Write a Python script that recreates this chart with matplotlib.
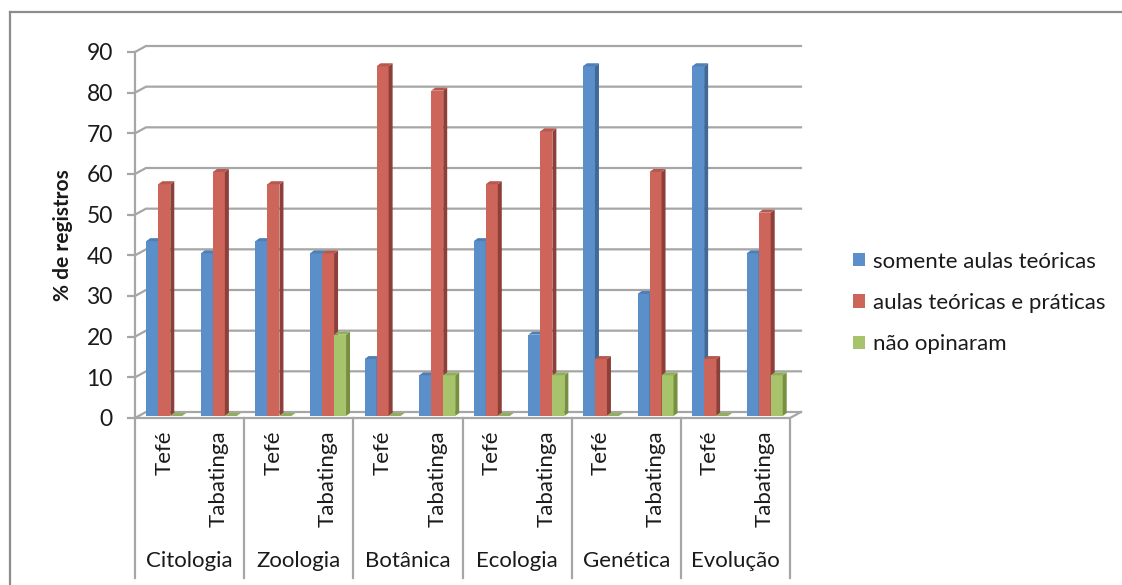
import matplotlib
matplotlib.use('Agg')
import matplotlib.pyplot as plt
from matplotlib.patches import Polygon, Patch
from matplotlib.lines import Line2D

# dados (% de registros)
disciplinas = ['Citologia', 'Zoologia', 'Botânica', 'Ecologia', 'Genética', 'Evolução']
cidades = ['Tefé', 'Tabatinga']
series = ['somente aulas teóricas', 'aulas teóricas e práticas', 'não opinaram']
somente_teoricas = [43, 40, 43, 40, 14, 10, 43, 20, 86, 30, 86, 40]
teoricas_praticas = [57, 60, 57, 40, 86, 80, 57, 70, 14, 60, 14, 50]
nao_opinaram = [0, 0, 0, 20, 0, 10, 0, 10, 0, 10, 0, 10]
y_ticks = [0, 10, 20, 30, 40, 50, 60, 70, 80, 90]

# cores: frente, lado, topo
cores = [
    ('#5b8fc9', '#3e6a9a', '#4f7fb6'),
    ('#cd655a', '#8f3f39', '#b7584f'),
    ('#a7c36b', '#76903f', '#93ae5a'),
]
cor_grade = '#a6a6a6'
cor_texto = '#1a1a1a'

plt.rcParams['font.family'] = ['Lato', 'DejaVu Sans']

W, H = 1122, 585
fig = plt.figure(figsize=(W / 100, H / 100), dpi=100)
ax = fig.add_axes([135 / W, 1 - 418 / H, 655 / W, 366 / H])

n = len(somente_teoricas)
ax.set_xlim(0, n)
ax.set_ylim(0, 90)

# conversao de pixels para unidades de dados
px_x = n / 655
px_y = 90 / 366
wall_dx, wall_dy = 11 * px_x, 6 * px_y
front_dx, front_dy = 2 * px_x, 2 * px_y
depth_dx, depth_dy = 4 * px_x, 3 * px_y
w = 12 * px_x

# parede do fundo com linhas de grade
for v in y_ticks:
    ax.plot([0, wall_dx, n + wall_dx], [v, v + wall_dy, v + wall_dy],
            color=cor_grade, lw=1.6, clip_on=False, zorder=1)
# piso
ax.plot([0, n, n + wall_dx], [0, 0, wall_dy], color=cor_grade, lw=1.6,
        clip_on=False, zorder=1)

valores = [somente_teoricas, teoricas_praticas, nao_opinaram]
for s, vals in enumerate(valores):
    frente, lado, topo = cores[s]
    for i, h in enumerate(vals):
        xc = i + 0.5 + (s - 1) * w + front_dx
        x_l, x_r = xc - w / 2, xc + w / 2
        b = front_dy
        ax.bar(xc, h, width=w, bottom=b, color=frente, zorder=3 + s,
               linewidth=0)
        ax.add_patch(Polygon([(x_r, b), (x_r + depth_dx, b + depth_dy),
                              (x_r + depth_dx, b + h + depth_dy), (x_r, b + h)],
                             closed=True, facecolor=lado, edgecolor='none',
                             zorder=3 + s))
        ax.add_patch(Polygon([(x_l, b + h), (x_l + depth_dx, b + h + depth_dy),
                              (x_r + depth_dx, b + h + depth_dy), (x_r, b + h)],
                             closed=True, facecolor=topo, edgecolor='none',
                             zorder=3 + s))

# eixos
for side in ['top', 'right', 'bottom']:
    ax.spines[side].set_visible(False)
ax.spines['left'].set_color(cor_grade)
ax.spines['left'].set_linewidth(1.6)
ax.set_xticks([])
ax.set_yticks(y_ticks)
ax.tick_params(axis='y', direction='out', length=6, width=1.6,
               color=cor_grade, pad=10, labelsize=16.5, labelcolor=cor_texto)
ax.patch.set_visible(False)

# rotulos das categorias
trans = ax.get_xaxis_transform()
for g in range(len(disciplinas) + 1):
    ax.plot([2 * g, 2 * g], [0, -0.437], color=cor_grade, lw=1.6,
            transform=trans, clip_on=False)
for i in range(n):
    ax.text(i + 0.5 + 2 * px_x, -0.033, cidades[i % 2], rotation=90,
            ha='center', va='top', fontsize=16, color=cor_texto,
            transform=trans)
for g, nome in enumerate(disciplinas):
    ax.text(2 * g + 1, -0.391, nome, ha='center', va='center', fontsize=16,
            color=cor_texto, transform=trans)

fig.text(63 / W, 1 - 235 / H, '% de registros', rotation=90, ha='center',
         va='center', fontsize=15, fontweight='bold', color=cor_texto)

# legenda
handles = [Patch(facecolor=c[0], edgecolor='none') for c in cores]
fig.legend(handles, series, loc='center left',
           bbox_to_anchor=(853 / W, 1 - 303 / H), frameon=False,
           fontsize=16, handlelength=0.55, handleheight=0.55,
           handletextpad=0.35, labelspacing=0.96, borderpad=0,
           borderaxespad=0, labelcolor=cor_texto)

# moldura do grafico
fig.add_artist(Line2D([10 / W, 10 / W], [1 - 12 / H, 0], color='#8c8c8c',
                      lw=1.6))
fig.add_artist(Line2D([10 / W, 1], [1 - 12 / H, 1 - 12 / H], color='#8c8c8c',
                      lw=1.6))

fig.savefig('out.png', dpi=100)
